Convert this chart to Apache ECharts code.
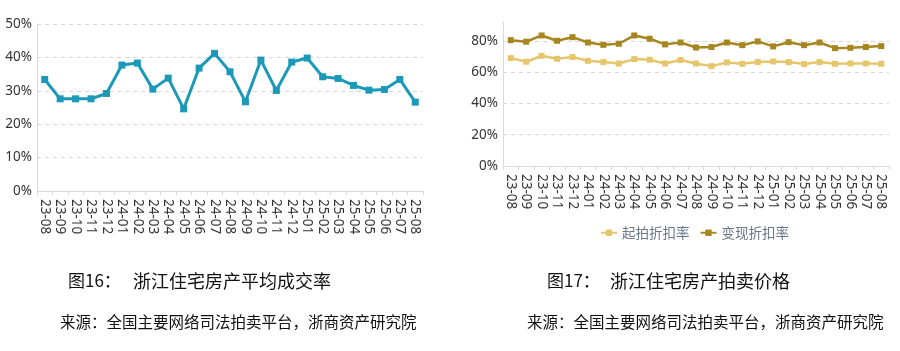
<!DOCTYPE html>
<html>
<head>
<meta charset="utf-8">
<script src="https://cdn.jsdelivr.net/npm/echarts@6/dist/echarts.min.js"></script>
<style>
  html, body { margin: 0; padding: 0; background: #fff; }
  #chart { width: 900px; height: 351px; }
</style>
</head>
<body>
<div id="chart"></div>
<script>
// 月份
var months = ['23-08','23-09','23-10','23-11','23-12','24-01','24-02','24-03','24-04','24-05','24-06','24-07','24-08',
	'24-09','24-10','24-11','24-12','25-01','25-02','25-03','25-04','25-05','25-06','25-07','25-08'];

// 图16 平均成交率 (%)
var dealRate = [33.4, 27.6, 27.6, 27.6, 29.2, 37.7, 38.3, 30.5, 33.8, 24.6, 36.8, 41.2, 35.7,
	26.7, 39.2, 30.1, 38.6, 39.8, 34.2, 33.7, 31.6, 30.2, 30.4, 33.4, 26.6];

// 图17 起拍折扣率 / 变现折扣率 (%)
var startRate = [68.9, 66.6, 70.4, 68.5, 69.6, 67.2, 66.4, 65.5, 68.3, 67.9, 65.5, 67.7, 65.5,
	63.8, 66.2, 65.3, 66.4, 66.8, 66.4, 65.1, 66.4, 65.3, 65.5, 65.5, 65.3];
var realizeRate = [80.4, 79.4, 83.4, 80.0, 82.3, 78.9, 77.4, 78.1, 83.4, 81.3, 77.7, 78.9, 75.7,
	76.0, 78.9, 77.2, 79.6, 76.4, 79.1, 77.2, 78.9, 75.3, 75.5, 76.0, 76.6];

var leftTicks = [0, 10, 20, 30, 40, 50];
var rightTicks = [0, 20, 40, 60, 80];

var captions = [
	{ num: '图16：', name: '浙江住宅房产平均成交率' },
	{ num: '图17：', name: '浙江住宅房产拍卖价格' }
];
var sourceText = '来源：全国主要网络司法拍卖平台，浙商资产研究院';

var myChart = echarts.init(document.getElementById('chart'));

var axisFont = 'Noto Sans, DejaVu Sans, sans-serif';
var cjkFont = 'Noto Sans CJK SC, sans-serif';

function xAxisCfg(idx) {
	return {
		type: 'category', gridIndex: idx, data: months, boundaryGap: true,
		axisLine: { lineStyle: { color: '#d9d9d9' } },
		axisTick: { show: true, length: 4, lineStyle: { color: '#d9d9d9' } },
		axisLabel: { rotate: -90, interval: 0, margin: 8, color: '#333', fontSize: 13.5, fontFamily: axisFont }
	};
}

function yAxisCfg(idx, max, interval) {
	return {
		type: 'value', gridIndex: idx, min: 0, max: max, interval: interval,
		axisLine: { show: true, lineStyle: { color: '#d9d9d9' } },
		axisTick: { show: false },
		axisLabel: { color: '#333', fontSize: 13.5, fontFamily: axisFont, margin: 5, showMaxLabel: idx === 0,
			formatter: function (v) { return v + '%'; } },
		splitLine: { showMaxLine: idx === 0, lineStyle: { color: '#d6d6d6', type: [4, 4] } }
	};
}

var option = {
	animation: false,
	grid: [
		{ left: 37, right: 477, top: 24, bottom: 160 },
		{ left: 503, right: 11, top: 22, bottom: 185 }
	],
	xAxis: [xAxisCfg(0), xAxisCfg(1)],
	yAxis: [yAxisCfg(0, leftTicks[leftTicks.length - 1], 10), yAxisCfg(1, 92, 20)],
	legend: {
		data: ['起拍折扣率', '变现折扣率'],
		left: 595, top: 221, itemWidth: 16, itemHeight: 8, itemGap: 10,
		textStyle: { color: '#687889', fontSize: 13.5, fontFamily: cjkFont }
	},
	series: [
		{
			name: '平均成交率', type: 'line', xAxisIndex: 0, yAxisIndex: 0, data: dealRate,
			symbol: 'rect', symbolSize: 7,
			lineStyle: { color: '#1c99b9', width: 3 },
			itemStyle: { color: '#1c99b9' }
		},
		{
			name: '起拍折扣率', type: 'line', xAxisIndex: 1, yAxisIndex: 1, data: startRate,
			symbol: 'rect', symbolSize: 6,
			lineStyle: { color: '#e6c66c', width: 2.5 },
			itemStyle: { color: '#e6c66c' }
		},
		{
			name: '变现折扣率', type: 'line', xAxisIndex: 1, yAxisIndex: 1, data: realizeRate,
			symbol: 'rect', symbolSize: 6,
			lineStyle: { color: '#a8861f', width: 2.5 },
			itemStyle: { color: '#a8861f' }
		}
	],
	graphic: [
		{ type: 'text', left: 68, top: 272, style: { text: captions[0].num, fontSize: 17, fontFamily: cjkFont, fill: '#111' } },
		{ type: 'text', left: 133, top: 272, style: { text: captions[0].name, fontSize: 18, fontFamily: cjkFont, fill: '#111' } },
		{ type: 'text', left: 60, top: 314, style: { text: sourceText, fontSize: 15.5, fontFamily: cjkFont, fill: '#111' } },
		{ type: 'text', left: 547, top: 272, style: { text: captions[1].num, fontSize: 17, fontFamily: cjkFont, fill: '#111' } },
		{ type: 'text', left: 610, top: 272, style: { text: captions[1].name, fontSize: 18, fontFamily: cjkFont, fill: '#111' } },
		{ type: 'text', left: 527, top: 314, style: { text: sourceText, fontSize: 15.5, fontFamily: cjkFont, fill: '#111' } }
	]
};

myChart.setOption(option);
</script>
</body>
</html>
